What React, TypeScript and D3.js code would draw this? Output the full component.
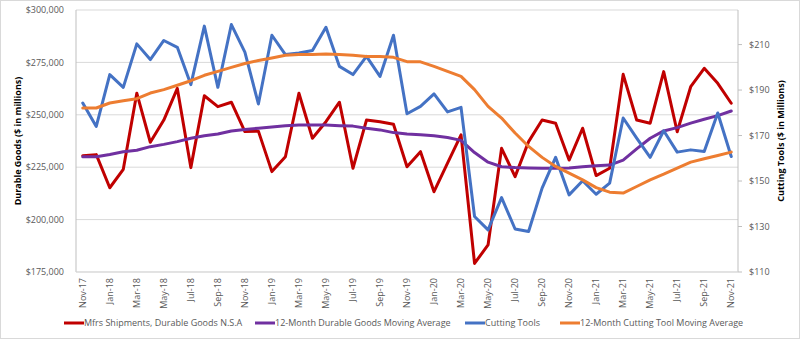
import React from "react";
import * as d3 from "d3";

const months: string[] = [
  "Nov-17","Dec-17","Jan-18","Feb-18","Mar-18","Apr-18","May-18","Jun-18","Jul-18","Aug-18","Sep-18","Oct-18",
  "Nov-18","Dec-18","Jan-19","Feb-19","Mar-19","Apr-19","May-19","Jun-19","Jul-19","Aug-19","Sep-19","Oct-19",
  "Nov-19","Dec-19","Jan-20","Feb-20","Mar-20","Apr-20","May-20","Jun-20","Jul-20","Aug-20","Sep-20","Oct-20",
  "Nov-20","Dec-20","Jan-21","Feb-21","Mar-21","Apr-21","May-21","Jun-21","Jul-21","Aug-21","Sep-21","Oct-21",
  "Nov-21"
];

const durableGoods: number[] = [
  230500, 231000, 215200, 224000, 260300, 236900, 247500, 262600, 224800, 259100, 253900, 256000,
  242000, 242200, 222900, 230000, 260300, 238800, 246700, 256000, 224500, 247500, 246700, 245500,
  225200, 232400, 213300, 226900, 240400, 179100, 187900, 234000, 220500, 237200, 247500, 246000,
  228400, 243600, 221000, 224500, 269300, 247500, 246000, 270600, 241900, 263400, 272200, 265000,
  255500
];

const durableMA: number[] = [
  230000, 230000, 231100, 232400, 233100, 234800, 235900, 237200, 238800, 240000, 240800, 242300,
  243000, 243600, 244200, 244800, 245100, 245100, 245100, 244800, 244600, 243600, 242800, 241500,
  240800, 240500, 240000, 239200, 237800, 232000, 227400, 225200, 224800, 224600, 224500, 224500,
  224600, 225200, 225700, 226000, 228400, 233700, 238800, 242300, 243900, 246000, 247900, 249600,
  251800
];

const cuttingTools: number[] = [
  184.3, 174.0, 196.8, 191.2, 210.3, 203.4, 211.8, 208.8, 192.4, 218.1, 191.2, 218.8,
  206.7, 183.9, 214.1, 205.6, 206.3, 207.4, 217.6, 200.4, 196.8, 204.8, 196.0, 214.1,
  179.6, 182.8, 188.3, 180.4, 182.4, 134.4, 128.5, 142.7, 128.9, 127.8, 146.9, 160.4,
  143.9, 150.1, 144.2, 149.1, 177.7, 168.9, 160.4, 172.1, 162.7, 163.7, 163.0, 179.9,
  160.8
];

const cuttingMA: number[] = [
  182.1, 182.1, 184.3, 185.3, 186.2, 188.7, 190.2, 192.1, 194.1, 196.5, 198.2, 200.0,
  201.7, 203.0, 204.1, 205.3, 205.6, 205.6, 205.9, 205.6, 205.3, 204.8, 204.8, 204.4,
  202.5, 202.4, 200.4, 198.2, 196.0, 190.2, 182.8, 177.7, 171.1, 165.2, 160.4, 156.4,
  153.5, 150.5, 147.1, 145.1, 144.7, 147.6, 150.5, 153.0, 155.7, 158.3, 159.8, 161.2,
  162.7
];

const leftTicks: number[] = [175000, 200000, 225000, 250000, 275000, 300000];
const rightTicks: number[] = [110, 130, 150, 170, 190, 210];

const seriesNames: string[] = [
  "Mfrs Shipments, Durable Goods N.S.A",
  "12-Month Durable Goods Moving Average",
  "Cutting Tools",
  "12-Month Cutting Tool Moving Average",
];
const seriesColors: string[] = ["#C00000", "#7030A0", "#4472C4", "#ED7D31"];

const W = 800, H = 339;
const plotL = 76, plotR = 738, plotT = 10, plotB = 272;
const FONT = "'Open Sans', 'Liberation Sans', sans-serif";
const TXT = "#595959";

export default function App() {
  const x = d3.scaleBand<string>().domain(months).range([plotL, plotR]).padding(0);
  const cx = (m: string) => (x(m) as number) + x.bandwidth() / 2;
  const yL = d3.scaleLinear().domain([175000, 300000]).range([plotB, plotT]);
  const yR = d3.scaleLinear().domain([110, 225.2]).range([plotB, plotT]);
  const fmtL = (v: number) => "$" + d3.format(",")(v);
  const fmtR = (v: number) => "$" + v;

  const lineL = d3.line<number>().x((_, i) => cx(months[i])).y((d) => yL(d));
  const lineR = d3.line<number>().x((_, i) => cx(months[i])).y((d) => yR(d));

  const paths = [
    lineL(durableGoods),
    lineL(durableMA),
    lineR(cuttingTools),
    lineR(cuttingMA),
  ];

  const legendX = [64, 255, 465, 560];
  const legendY = 323;

  return (
    <svg
      width={W}
      height={H}
      style={{ position: "fixed", left: 0, top: 0, background: "#fff" }}
      fontFamily={FONT}
    >
      <rect x={0.5} y={0.5} width={W - 1} height={H - 1} fill="#fff" stroke="#D9D9D9" />
      {/* gridlines */}
      {leftTicks.map((t) => (
        <line key={"g" + t} x1={plotL} x2={plotR} y1={yL(t)} y2={yL(t)} stroke="#D9D9D9" strokeWidth={1} />
      ))}
      {/* axes */}
      <line x1={plotL} x2={plotL} y1={plotT} y2={plotB} stroke="#BFBFBF" />
      <line x1={plotR} x2={plotR} y1={plotT} y2={plotB} stroke="#BFBFBF" />
      <line x1={plotL} x2={plotR} y1={plotB} y2={plotB} stroke="#D9D9D9" />
      {rightTicks.map((t) => (
        <line key={"rt" + t} x1={plotR} x2={plotR + 4} y1={yR(t)} y2={yR(t)} stroke="#BFBFBF" />
      ))}
      {/* left tick labels */}
      {leftTicks.map((t) => (
        <text key={"lt" + t} x={64} y={yL(t)} dy="0.35em" textAnchor="end" fontSize={9} fill={TXT}>
          {fmtL(t)}
        </text>
      ))}
      {/* right tick labels */}
      {rightTicks.map((t) => (
        <text key={"rl" + t} x={749} y={yR(t)} dy="0.35em" textAnchor="start" fontSize={9} fill={TXT}>
          {fmtR(t)}
        </text>
      ))}
      {/* x labels */}
      {months.map((m, i) =>
        i % 2 === 0 ? (
          <text
            key={"x" + m}
            transform={`translate(${cx(m) + 3},${278}) rotate(-90)`}
            textAnchor="end"
            fontSize={9}
            fill={TXT}
          >
            {m}
          </text>
        ) : null
      )}
      {/* axis titles */}
      <text
        transform={`translate(${21},${141}) rotate(-90)`}
        textAnchor="middle"
        fontSize={9}
        fontWeight="bold"
        fill="#000"
      >
        Durable Goods ($ in millions)
      </text>
      <text
        transform={`translate(${784},${141}) rotate(-90)`}
        textAnchor="middle"
        fontSize={9}
        fontWeight="bold"
        fill="#000"
      >
        Cutting Tools ($ in Millions)
      </text>
      {/* series */}
      {paths.map((p, i) => (
        <path
          key={"s" + i}
          d={p || ""}
          fill="none"
          stroke={seriesColors[i]}
          strokeWidth={3}
          strokeLinejoin="round"
          strokeLinecap="round"
        />
      ))}
      {/* legend */}
      {seriesNames.map((n, i) => (
        <g key={"lg" + i}>
          <line x1={legendX[i]} x2={legendX[i] + 20} y1={legendY} y2={legendY} stroke={seriesColors[i]} strokeWidth={3} />
          <text x={legendX[i] + 20} y={legendY} dy="0.35em" fontSize={9} fill={TXT}>
            {n}
          </text>
        </g>
      ))}
    </svg>
  );
}
